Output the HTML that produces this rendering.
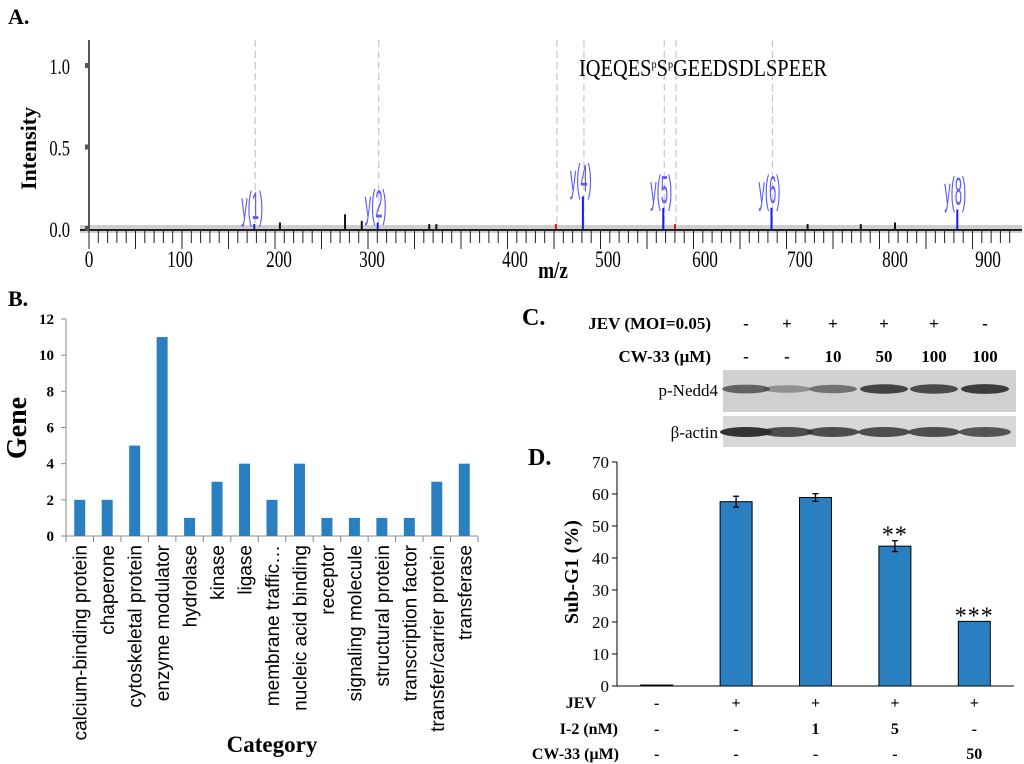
<!DOCTYPE html>
<html><head><meta charset="utf-8"><style>
html,body{margin:0;padding:0;background:#fff;}
svg{display:block;}
text{font-family:"Liberation Serif",serif;}
.sans{font-family:"Liberation Sans",sans-serif;}
</style></head><body>
<svg id="fig" width="1024" height="764" viewBox="0 0 1024 764">
<text x="8" y="24" font-size="22" font-weight="bold">A.</text>
<text x="8" y="306" font-size="22" font-weight="bold">B.</text>
<text x="522" y="325" font-size="24" font-weight="bold">C.</text>
<text x="528" y="465" font-size="24" font-weight="bold">D.</text>

<g id="pa"></g>
<g id="pb"></g>
<g id="pc"></g>
<g id="pd"></g>
</svg>
<script>
const NS="http://www.w3.org/2000/svg";
function mk(parent,tag,attrs,txt){const e=document.createElementNS(NS,tag);for(const k in attrs)e.setAttribute(k,attrs[k]);if(txt!==undefined)e.textContent=txt;parent.appendChild(e);return e;}

// ---------- Panel A data ----------
const mzTicks=[0,100,200,300,400,500,600,700,800,900];
const mzTickPx=[89,180,279,372,515,608,705,800,895,988];
const peakMz=[175,201,271,289,304,340,345,444,473,557,569,670,708,764,800,867];
const peakInt=[0.03,0.04,0.09,0.05,0.04,0.03,0.03,0.03,0.2,0.13,0.03,0.13,0.03,0.03,0.04,0.12];
const peakType=["y","n","n","n","y","n","n","r","y","y","r","y","n","n","n","y"];
const peakLabels=["y(1)","","","","y(2)","","","","y(4)","y(5)","","y(6)","","","","y(8)"];
const guideMz=[175,304,444,473,557,569,670];
const intTicks=[0.0,0.5,1.0];

(function(){
 const g=document.getElementById('pa');
 function xs(m){for(let i=0;i<mzTicks.length-1;i++){if(m<=mzTicks[i+1]||i==mzTicks.length-2){const t=(m-mzTicks[i])/(mzTicks[i+1]-mzTicks[i]);return mzTickPx[i]+t*(mzTickPx[i+1]-mzTickPx[i]);}}}
 const y0=229,y1=66; function ys(v){return y0-(y0-y1)*v;}
 guideMz.forEach(m=>{const l=mk(g,'line',{x1:xs(m)+1,x2:xs(m)+1,y1:40,y2:y0,stroke:'#c8c8c8','stroke-width':1.2,'stroke-dasharray':'7,4'});
 
 });
 const band=mk(g,'rect',{x:80,y:y0-4,width:942,height:8,fill:'#cfcfcf'});
 
 
 mk(g,'line',{x1:80,x2:1022,y1:y0+1,y2:y0+1,stroke:'#222','stroke-width':2});
 const ya=mk(g,'line',{x1:89,x2:89,y1:40,y2:y0,stroke:'#222','stroke-width':1.5});
 
 
 intTicks.forEach(v=>{mk(g,'rect',{x:85,y:ys(v)-3,width:4,height:5,fill:'#555'});
  const t=mk(g,'text',{x:0,y:0,'font-size':22,transform:`translate(70,${ys(v)+8}) scale(0.75,1)`,'text-anchor':'end'},v.toFixed(1));
  
  });
 const yt=mk(g,'text',{x:0,y:0,'font-size':22,'font-weight':'bold',transform:'translate(36,190) rotate(-90)'},'Intensity');
 
 
 for(let x=89;x<=1018;x+=9.3){const big=Math.round((x-89)/9.3)%5==0;mk(g,'line',{x1:x,x2:x,y1:y0+2,y2:y0+(big?20:14),stroke:'#222','stroke-width':1});}
 mzTicks.forEach((m,i)=>{const t=mk(g,'text',{x:0,y:0,'font-size':23,transform:`translate(${mzTickPx[i]},${y0+38}) scale(0.75,1)`,'text-anchor':'middle'},String(m));
  
  });
 const xt=mk(g,'text',{x:0,y:0,'font-size':24,'font-weight':'bold',transform:`translate(553,${y0+49}) scale(0.8,1)`,'text-anchor':'middle'},'m/z');
 
 
 peakMz.forEach((m,i)=>{const col=peakType[i]=='y'?'#1a1aee':peakType[i]=='r'?'#e01010':'#111';
  const p=mk(g,'line',{x1:xs(m),x2:xs(m),y1:y0,y2:ys(peakInt[i]),stroke:col,'stroke-width':2});
  
  
  if(peakLabels[i]){const t=mk(g,'text',{x:0,y:0,'font-size':15,fill:'#5a5aff',transform:`translate(${xs(m)-13},${ys(peakInt[i])-5}) scale(0.85,2.6)`,'class':'sans'},peakLabels[i]);
   
   }});
 const seq=mk(g,'text',{x:0,y:0,'font-size':24,transform:'translate(579,76) scale(0.85,1)'});
 
 
 seq.innerHTML='IQEQES<tspan font-size="12" dy="-8">p</tspan><tspan dy="8">S</tspan><tspan font-size="12" dy="-8">p</tspan><tspan dy="8">GEEDSDLSPEER</tspan>';
})();

// ---------- Panel B data ----------
const catNames=["calcium-binding protein","chaperone","cytoskeletal protein","enzyme modulator","hydrolase","kinase","ligase","membrane traffic…","nucleic acid binding","receptor","signaling molecule","structural protein","transcription factor","transfer/carrier protein","transferase"];
const catCounts=[2,2,5,11,1,3,4,2,4,1,1,1,1,3,4];
const geneTicks=[0,2,4,6,8,10,12];
(function(){
 const g=document.getElementById('pb');
 const x0=66,x1=478,y0=536,y1=319,max=12;
 const ys=v=>y0-(y0-y1)*v/max; const bw=(x1-x0)/catNames.length;
 mk(g,'line',{x1:x0,x2:x0,y1:y1,y2:y0,stroke:'#888','stroke-width':1});
 mk(g,'line',{x1:x0,x2:x1,y1:y0,y2:y0,stroke:'#888','stroke-width':1});
 geneTicks.forEach(v=>{mk(g,'line',{x1:x0-5,x2:x0,y1:ys(v),y2:ys(v),stroke:'#888'});
  const t=mk(g,'text',{x:x0-12,y:ys(v)+5,'font-size':15,'font-weight':'bold','text-anchor':'end'},String(v));
  
  });
 for(let i=0;i<=catNames.length;i++)mk(g,'line',{x1:x0+i*bw,x2:x0+i*bw,y1:y0,y2:y0+6,stroke:'#888'});
 catNames.forEach((c,i)=>{const cx=x0+(i+0.5)*bw;
  const b=mk(g,'rect',{x:cx-5.5,y:ys(catCounts[i]),width:11,height:y0-ys(catCounts[i]),fill:'#2a7fc1'});
  
  
  const t=mk(g,'text',{x:0,y:0,'font-size':19,'class':'sans','text-anchor':'end',transform:`translate(${cx+7},${y0+9}) rotate(-90)`},c);
  
  });
 const yt=mk(g,'text',{x:0,y:0,'font-size':28,'font-weight':'bold','text-anchor':'middle',transform:'translate(26,428) rotate(-90)'},'Gene');
 
 
 const xt=mk(g,'text',{x:272,y:752,'font-size':23,'font-weight':'bold','text-anchor':'middle'},'Category');
 
 
})();

// ---------- Panel C ----------
const laneX=[746,787,833,884,934,985];
const jevRow=["-","+","+","+","+","-"];
const cwRow=["-","-","10","50","100","100"];
const nedd4Band=[0.7,0.4,0.6,0.9,0.85,0.95];
const actinBand=[0.95,0.8,0.8,0.8,0.8,0.75];
(function(){
 const g=document.getElementById('pc');
 const r1=mk(g,'text',{x:711,y:329,'font-size':17,'font-weight':'bold','text-anchor':'end'},'JEV (MOI=0.05)');
 
 
 const r2=mk(g,'text',{x:711,y:362,'font-size':17,'font-weight':'bold','text-anchor':'end'},'CW-33 (μM)');
 
 
 laneX.forEach((x,i)=>{mk(g,'text',{x:x,y:329,'font-size':17,'font-weight':'bold','text-anchor':'middle'},jevRow[i]);
  mk(g,'text',{x:x,y:362,'font-size':17,'font-weight':'bold','text-anchor':'middle'},cwRow[i]);});
 const b1=mk(g,'rect',{x:723,y:370,width:293,height:42,fill:'#d0d0d0'});
 
 
 const b2=mk(g,'rect',{x:723,y:416,width:293,height:31,fill:'#d8d8d8'});
 
 
 laneX.forEach((x,i)=>{mk(g,'ellipse',{cx:x,cy:389,rx:24,ry:3+2*nedd4Band[i],fill:'#333','fill-opacity':nedd4Band[i]});
  mk(g,'ellipse',{cx:x,cy:432,rx:26,ry:5,fill:'#2a2a2a','fill-opacity':actinBand[i]});});
 mk(g,'text',{x:718,y:396,'font-size':17,'text-anchor':'end'},'p-Nedd4');
 mk(g,'text',{x:718,y:438,'font-size':17,'text-anchor':'end'},'β-actin');
})();

// ---------- Panel D data ----------
const subVals=[0.3,57.6,58.9,43.7,20.2];
const subErr=[0,1.7,1.2,1.7,0];
const subSig=["","","","**","***"];
const dJev=["-","+","+","+","+"];
const dI2=["-","-","1","5","-"];
const dCw=["-","-","-","-","50"];
const dTicks=[0,10,20,30,40,50,60,70];
(function(){
 const g=document.getElementById('pd');
 const x0=617,x1=1014,y0=686,y1=462,max=70;
 const ys=v=>y0-(y0-y1)*v/max; const step=(x1-x0)/5;
 mk(g,'line',{x1:x0,x2:x0,y1:y1,y2:y0,stroke:'#000'});
 mk(g,'line',{x1:x0,x2:x1,y1:y0,y2:y0,stroke:'#000'});
 dTicks.forEach(v=>{mk(g,'line',{x1:x0-5,x2:x0,y1:ys(v),y2:ys(v),stroke:'#000'});
  const t=mk(g,'text',{x:x0-8,y:ys(v)+6,'font-size':17,'text-anchor':'end'},String(v));
  
  });
 subVals.forEach((v,i)=>{const cx=x0+step*(i+0.5);
  const b=mk(g,'rect',{x:cx-16,y:ys(v),width:32,height:y0-ys(v),fill:'#2a7fc1',stroke:'#000','stroke-width':1});
  
  
  if(subErr[i]>0){mk(g,'line',{x1:cx,x2:cx,y1:ys(v+subErr[i]),y2:ys(v-subErr[i]),stroke:'#000','stroke-width':1.3});
   mk(g,'line',{x1:cx-3,x2:cx+3,y1:ys(v+subErr[i]),y2:ys(v+subErr[i]),stroke:'#000','stroke-width':1.3});
   mk(g,'line',{x1:cx-3,x2:cx+3,y1:ys(v-subErr[i]),y2:ys(v-subErr[i]),stroke:'#000','stroke-width':1.3});}
  if(subSig[i]){const t=mk(g,'text',{x:cx,y:ys(v+subErr[i])+2,'font-size':24,'text-anchor':'middle','letter-spacing':'1'},subSig[i]);
   
   }
  mk(g,'text',{x:cx,y:708,'font-size':16,'font-weight':'bold','text-anchor':'middle'},dJev[i]);
  mk(g,'text',{x:cx,y:734,'font-size':16,'font-weight':'bold','text-anchor':'middle'},dI2[i]);
  mk(g,'text',{x:cx,y:759,'font-size':16,'font-weight':'bold','text-anchor':'middle'},dCw[i]);});
 mk(g,'text',{x:596,y:708,'font-size':16,'font-weight':'bold','text-anchor':'end'},'JEV');
 mk(g,'text',{x:618,y:734,'font-size':16,'font-weight':'bold','text-anchor':'end'},'I-2 (nM)');
 mk(g,'text',{x:619,y:759,'font-size':16,'font-weight':'bold','text-anchor':'end'},'CW-33 (μM)');
 const yt=mk(g,'text',{x:0,y:0,'font-size':20,'font-weight':'bold','text-anchor':'middle',transform:'translate(578,572) rotate(-90)'},'Sub-G1 (%)');
 
 
})();
</script>
</body></html>
